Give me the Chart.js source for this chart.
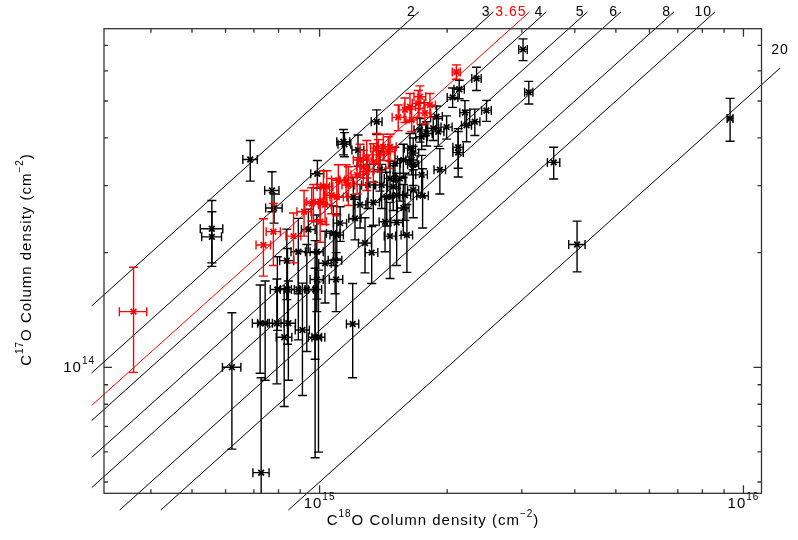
<!DOCTYPE html>
<html>
<head>
<meta charset="utf-8">
<script src="https://cdn.jsdelivr.net/npm/chart.js@4.4.0/dist/chart.umd.min.js"></script>
<style>
  html, body { margin: 0; background: #fff; }
  canvas { display: block; }
</style>
</head>
<body>
<canvas id="chart" width="798" height="540"></canvas>
<script>
// x values in units of 1e15 cm^-2 (C18O), y values in units of 1e14 cm^-2 (C17O)
const X_UNIT = 1e15;
const Y_UNIT = 1e14;

// --- black sources ---
const blackX = [0.557, 0.557, 0.686, 0.772, 0.781, 0.621, 0.728, 0.724, 0.744, 0.793,
  0.844, 0.825, 0.795, 0.840, 0.891, 0.933, 0.976, 0.911, 0.976, 0.994,
  1.094, 1.197, 1.327, 0.985, 0.837, 0.891, 0.941, 0.985, 1.030, 1.088,
  1.098, 1.118, 1.212, 1.280, 0.988, 1.138, 1.145, 1.364, 1.401, 1.440,
  1.520, 1.339, 1.663, 1.649, 1.663, 1.741, 1.663, 1.750, 1.576, 1.547,
  1.466, 1.492, 1.520, 1.466, 1.201, 1.078, 1.725, 1.789, 1.854, 1.905,
  1.994, 1.888, 2.135, 2.060, 2.202, 2.222, 2.324, 2.476, 2.346, 2.123,
  2.123, 1.922, 3.020, 3.116, 3.567, 4.050, 9.300, 1.634, 1.506, 1.741,
  1.576, 1.427, 1.607, 1.232, 1.301, 1.388, 1.246, 1.590];
const blackY = [2.31, 2.20, 3.51, 2.91, 2.62, 1.00, 0.529, 1.305, 1.305, 1.305,
  1.305, 1.199, 1.60, 1.60, 1.60, 1.60, 1.60, 1.253, 1.199, 1.199,
  1.70, 1.299, 2.00, 1.70, 1.905, 2.01, 2.30, 2.01, 1.875, 1.91,
  2.225, 2.39, 2.46, 2.12, 3.22, 3.91, 3.85, 4.41, 3.01, 2.80,
  2.83, 2.71, 3.65, 3.50, 3.40, 3.20, 2.92, 2.82, 3.50, 3.13,
  3.13, 2.98, 2.40, 2.21, 2.80, 2.25, 4.20, 4.11, 4.24, 4.15,
  4.27, 4.55, 5.37, 5.11, 4.66, 4.32, 4.41, 4.72, 5.73, 3.66,
  3.78, 3.30, 6.83, 5.27, 3.45, 2.10, 4.50, 3.76, 3.43, 4.03,
  2.62, 2.41, 2.225, 3.72, 3.01, 3.30, 2.67, 2.83];
const blackXErr = [0.034, 0.030, 0.027, 0.030, 0.035, 0.031, 0.032, 0.030, 0.030, 0.032,
  0.033, 0.035, 0.030, 0.032, 0.033, 0.035, 0.035, 0.035, 0.035, 0.035,
  0.040, 0.040, 0.045, 0.035, 0.032, 0.035, 0.035, 0.035, 0.035, 0.040,
  0.040, 0.040, 0.040, 0.045, 0.035, 0.040, 0.040, 0.040, 0.045, 0.045,
  0.050, 0.045, 0.050, 0.050, 0.050, 0.055, 0.050, 0.055, 0.050, 0.050,
  0.045, 0.045, 0.050, 0.045, 0.040, 0.040, 0.055, 0.055, 0.055, 0.060,
  0.060, 0.060, 0.060, 0.060, 0.060, 0.060, 0.065, 0.065, 0.060, 0.060,
  0.060, 0.060, 0.070, 0.070, 0.120, 0.180, 0.150, 0.050, 0.045, 0.055,
  0.050, 0.045, 0.050, 0.040, 0.045, 0.045, 0.040, 0.050];
const blackYErr = [0.43, 0.36, 0.43, 0.35, 0.23, 0.39, 0.41, 0.34, 0.38, 0.40,
  0.38, 0.41, 0.35, 0.45, 0.42, 0.50, 0.55, 0.41, 0.62, 0.60,
  0.30, 0.36, 0.34, 0.30, 0.40, 0.45, 0.30, 0.50, 0.40, 0.35,
  0.30, 0.25, 0.30, 0.35, 0.27, 0.30, 0.28, 0.33, 0.40, 0.45,
  0.40, 0.35, 0.35, 0.30, 0.40, 0.40, 0.45, 0.50, 0.35, 0.40,
  0.35, 0.40, 0.55, 0.50, 0.35, 0.40, 0.30, 0.30, 0.30, 0.35,
  0.30, 0.30, 0.30, 0.30, 0.35, 0.41, 0.35, 0.30, 0.40, 0.50,
  0.45, 0.45, 0.45, 0.36, 0.33, 0.32, 0.58, 0.35, 0.35, 0.30,
  0.40, 0.40, 0.45, 0.35, 0.40, 0.40, 0.35, 0.40];

// --- red sources ---
const redX = [0.364, 0.737, 0.778, 0.868, 1.003, 0.958, 1.003, 1.021, 1.068, 1.098,
  1.169, 1.155, 1.107, 1.040, 0.967, 1.030, 1.292, 1.339, 1.268, 1.376,
  1.452, 1.413, 1.466, 1.292, 1.364, 1.533, 1.634, 1.709, 1.725, 1.821,
  1.649, 2.102, 1.590, 1.772, 0.919, 1.226, 1.246];
const redY = [1.40, 2.095, 2.27, 2.21, 2.41, 2.69, 2.72, 2.98, 2.83, 2.80,
  3.01, 3.10, 3.10, 2.98, 2.72, 2.67, 3.54, 3.46, 3.36, 3.61,
  3.68, 3.79, 3.79, 3.26, 3.76, 4.53, 4.83, 4.93, 5.13, 4.88,
  4.46, 5.96, 4.74, 4.65, 2.56, 3.20, 3.50];
const redXErr = [0.027, 0.029, 0.030, 0.035, 0.035, 0.035, 0.035, 0.035, 0.040, 0.040,
  0.040, 0.040, 0.040, 0.035, 0.035, 0.035, 0.045, 0.045, 0.045, 0.045,
  0.050, 0.045, 0.050, 0.045, 0.045, 0.050, 0.050, 0.055, 0.055, 0.055,
  0.050, 0.046, 0.050, 0.055, 0.035, 0.040, 0.045];
const redYErr = [0.43, 0.36, 0.42, 0.33, 0.28, 0.27, 0.30, 0.30, 0.30, 0.30,
  0.35, 0.30, 0.30, 0.30, 0.30, 0.30, 0.40, 0.40, 0.35, 0.35,
  0.35, 0.30, 0.30, 0.35, 0.35, 0.35, 0.40, 0.40, 0.35, 0.35,
  0.30, 0.26, 0.35, 0.30, 0.35, 0.35, 0.35];

// --- ratio lines N(C18O)/N(C17O) ---
const ratios = [2, 3, 3.65, 4, 5, 6, 8, 10, 20];
const ratioLabels = ['2', '3', '3.65', '4', '5', '6', '8', '10', '20'];
const ratioColors = ['#000', '#000', '#ff0000', '#000', '#000', '#000', '#000', '#000', '#000'];

// axis ranges and the box the ratio lines are drawn in
const xRange = [3.10e14, 1.103e16];
const yRange = [4.67e13, 7.74e14];
const lineBoxX = [2.9e14, 1.22e16];
const lineBoxY = [4.22e13, 8.57e14];

// tick marks: decades x mantissas, labels only on listed decades
const tickMantissas = [1, 2, 3, 4, 5, 6, 7, 8, 9];
const xDecades = [14, 15, 16];
const yDecades = [13, 14];
const xLabelDecades = [15, 16];
const yLabelDecades = [14];

function points(xs, ys) {
  return xs.map((v, i) => ({ x: v * X_UNIT, y: ys[i] * Y_UNIT }));
}

function ratioLine(r) {
  const x0 = Math.max(lineBoxX[0], r * lineBoxY[0]);
  const x1 = Math.min(lineBoxX[1], r * lineBoxY[1]);
  return [{ x: x0, y: x0 / r }, { x: x1, y: x1 / r }];
}

const FONT = '"Liberation Sans", Arial, sans-serif';

// draws text made of plain and superscript pieces
function richWidth(ctx, parts, size) {
  let w = 0;
  parts.forEach(p => {
    ctx.font = (p.sup ? Math.round(size * 0.68) : size) + 'px ' + FONT;
    w += ctx.measureText(p.t).width;
  });
  return w;
}
function drawRich(ctx, parts, x, y, size, align) {
  ctx.save();
  ctx.letterSpacing = '1px';
  ctx.textBaseline = 'alphabetic';
  ctx.textAlign = 'left';
  const w = richWidth(ctx, parts, size);
  let cx = align === 'center' ? x - w / 2 : align === 'right' ? x - w : x;
  parts.forEach(p => {
    ctx.font = (p.sup ? Math.round(size * 0.68) : size) + 'px ' + FONT;
    ctx.fillText(p.t, cx, p.sup ? y - size * 0.55 : y);
    cx += ctx.measureText(p.t).width;
  });
  ctx.restore();
}

const decor = {
  id: 'decor',
  beforeDatasetDraw(chart, args) {
    const ds = chart.data.datasets[args.index];
    if (!ds.errX) return;
    const { ctx, chartArea: a } = chart;
    const sx = chart.scales.x, sy = chart.scales.y;
    const cap = 4.5;
    ctx.save();
    ctx.beginPath();
    ctx.rect(a.left, a.top, a.right - a.left, a.bottom - a.top);
    ctx.clip();
    ctx.strokeStyle = ds.borderColor;
    ctx.lineWidth = 1.4;
    ds.data.forEach((p, i) => {
      const px = sx.getPixelForValue(p.x);
      const py = sy.getPixelForValue(p.y);
      const xl = sx.getPixelForValue(p.x - ds.errX[i]);
      const xr = sx.getPixelForValue(p.x + ds.errX[i]);
      const lo = p.y - ds.errY[i];
      const yb = lo > 0 ? sy.getPixelForValue(lo) : a.bottom + 20;
      const yt = sy.getPixelForValue(p.y + ds.errY[i]);
      ctx.beginPath();
      ctx.moveTo(xl, py); ctx.lineTo(xr, py);
      ctx.moveTo(xl, py - cap); ctx.lineTo(xl, py + cap);
      ctx.moveTo(xr, py - cap); ctx.lineTo(xr, py + cap);
      ctx.moveTo(px, yt); ctx.lineTo(px, yb);
      ctx.moveTo(px - cap, yt); ctx.lineTo(px + cap, yt);
      ctx.moveTo(px - cap, yb); ctx.lineTo(px + cap, yb);
      ctx.stroke();
    });
    ctx.restore();
  },
  afterDraw(chart) {
    const { ctx, chartArea: a } = chart;
    const sx = chart.scales.x, sy = chart.scales.y;
    ctx.save();

    // ratio labels at the end of each line
    chart.data.datasets.forEach((ds, i) => {
      if (ds.ratioLabel === undefined) return;
      const end = chart.getDatasetMeta(i).data[1];
      ctx.fillStyle = ds.borderColor;
      ctx.font = '14px ' + FONT;
      ctx.letterSpacing = '1px';
      if (ds.data[1].y >= lineBoxY[1] * 0.999) {
        ctx.textAlign = 'right';
        ctx.fillText(ds.ratioLabel, end.x - 3, end.y + 4);
      } else {
        ctx.textAlign = 'center';
        ctx.fillText(ds.ratioLabel, end.x, end.y - 14);
      }
    });
    ctx.letterSpacing = '0px';

    // frame
    ctx.strokeStyle = '#333';
    ctx.lineWidth = 1.3;
    ctx.strokeRect(a.left, a.top, a.right - a.left, a.bottom - a.top);

    // inward ticks on all four sides
    ctx.beginPath();
    xDecades.forEach(d => tickMantissas.forEach(m => {
      const v = m * Math.pow(10, d);
      if (v < xRange[0] || v > xRange[1]) return;
      const px = sx.getPixelForValue(v);
      const len = m === 1 ? 8 : 4;
      ctx.moveTo(px, a.bottom); ctx.lineTo(px, a.bottom - len);
      ctx.moveTo(px, a.top); ctx.lineTo(px, a.top + len);
    }));
    yDecades.forEach(d => tickMantissas.forEach(m => {
      const v = m * Math.pow(10, d);
      if (v < yRange[0] || v > yRange[1]) return;
      const py = sy.getPixelForValue(v);
      const len = m === 1 ? 8 : 4;
      ctx.moveTo(a.left, py); ctx.lineTo(a.left + len, py);
      ctx.moveTo(a.right, py); ctx.lineTo(a.right - len, py);
    }));
    ctx.stroke();

    // tick labels
    ctx.fillStyle = '#000';
    xLabelDecades.forEach(d => {
      const px = sx.getPixelForValue(Math.pow(10, d));
      drawRich(ctx, [{ t: '10' }, { t: String(d), sup: true }], px, a.bottom + 15, 15, 'center');
    });
    yLabelDecades.forEach(d => {
      const py = sy.getPixelForValue(Math.pow(10, d));
      drawRich(ctx, [{ t: '10' }, { t: String(d), sup: true }], a.left - 9, py + 5, 15, 'right');
    });

    // axis titles
    drawRich(ctx, [{ t: 'C' }, { t: '18', sup: true }, { t: 'O Column density (cm' }, { t: '\u22122', sup: true }, { t: ')' }],
      433, 525, 15, 'center');
    ctx.save();
    ctx.translate(31, 259.5);
    ctx.rotate(-Math.PI / 2);
    drawRich(ctx, [{ t: 'C' }, { t: '17', sup: true }, { t: 'O Column density (cm' }, { t: '\u22122', sup: true }, { t: ')' }],
      0, 0, 15, 'center');
    ctx.restore();

    ctx.restore();
  }
};

const datasets = [
  {
    label: 'red',
    data: points(redX, redY),
    errX: redXErr.map(v => v * X_UNIT),
    errY: redYErr.map(v => v * Y_UNIT),
    borderColor: '#ff0000',
    backgroundColor: '#ff0000',
    pointStyle: 'crossRot',
    pointRadius: 4,
    borderWidth: 1.8,
    order: 0
  },
  {
    label: 'black',
    data: points(blackX, blackY),
    errX: blackXErr.map(v => v * X_UNIT),
    errY: blackYErr.map(v => v * Y_UNIT),
    borderColor: '#000',
    backgroundColor: '#000',
    pointStyle: 'crossRot',
    pointRadius: 4,
    borderWidth: 1.8,
    order: 1
  }
];
ratios.forEach((r, i) => {
  datasets.push({
    label: 'R=' + r,
    ratioLabel: ratioLabels[i],
    data: ratioLine(r),
    showLine: true,
    borderColor: ratioColors[i],
    borderWidth: 1,
    pointRadius: 0,
    clip: false,
    order: 2
  });
});

new Chart(document.getElementById('chart'), {
  type: 'scatter',
  data: { datasets },
  options: {
    responsive: false,
    devicePixelRatio: 1,
    animation: false,
    layout: { padding: { left: 104, right: 36.5, top: 28.7, bottom: 46.7 } },
    plugins: { legend: { display: false }, tooltip: { enabled: false } },
    scales: {
      x: { type: 'logarithmic', min: xRange[0], max: xRange[1], display: false },
      y: { type: 'logarithmic', min: yRange[0], max: yRange[1], display: false }
    }
  },
  plugins: [decor]
});
</script>
</body>
</html>
